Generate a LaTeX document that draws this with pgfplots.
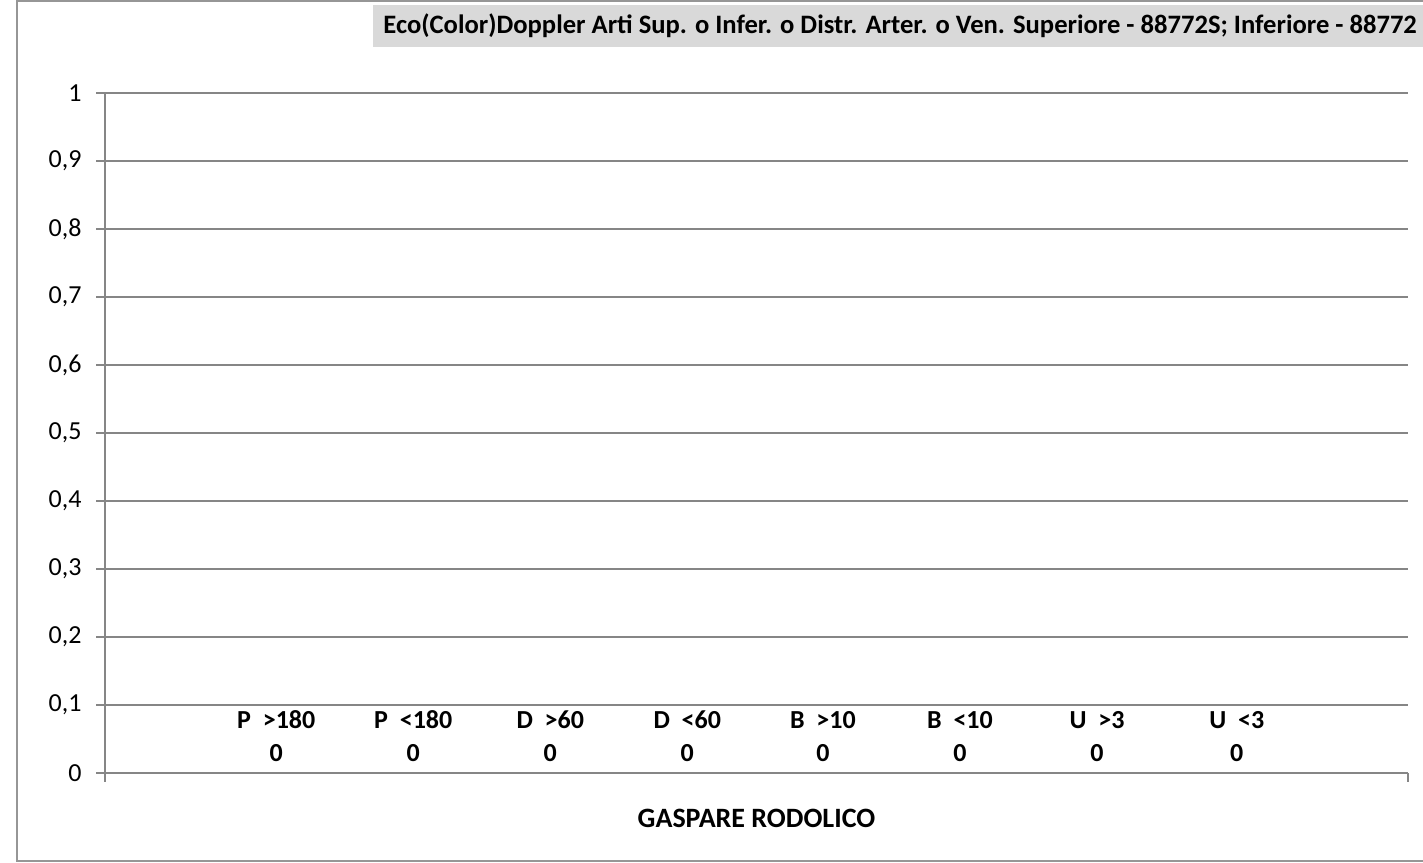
\documentclass[border=0pt]{standalone}
\usepackage{fontspec}
\setmainfont{Carlito}
\usepackage{pgfplots}
\pgfplotsset{compat=1.18}
\definecolor{gridc}{RGB}{134,134,134}
\definecolor{borderc}{RGB}{150,150,150}
\definecolor{titlebg}{RGB}{217,217,217}
\begin{document}
\begin{tikzpicture}
\useasboundingbox (0,0) rectangle (711.5pt,431pt);
\begin{scope}
\clip (0,0) rectangle (711.5pt,431pt);
\draw[borderc, line width=1pt] (720pt,0.6pt) -- (8.5pt,0.6pt) -- (8.5pt,430.4pt) -- (720pt,430.4pt);
\fill[titlebg] (186.5pt,407.5pt) rectangle (720pt,428.5pt);
\node[anchor=west, inner sep=0pt, font=\bfseries\fontsize{13.3}{15}\selectfont] at (191.5pt,418pt) {Eco(Color)Doppler Arti Sup. o Infer. o Distr. Arter. o Ven. Superiore - 88772S; Inferiore - 88772};
\begin{axis}[
  at={(52.5pt,44.5pt)}, anchor=south west,
  scale only axis, width=651.5pt, height=340pt,
  xmin=0, xmax=9.51, ymin=0, ymax=1,
  ytick={0,0.1,0.2,0.3,0.4,0.5,0.6,0.7,0.8,0.9,1},
  xtick={0,9.51}, xticklabels={},
  axis x line*=bottom, axis y line*=left,
  axis line style={gridc, line width=1pt, -},
  ymajorgrids, grid style={gridc, line width=1pt},
  tick style={gridc, line width=1pt},
  tick align=outside, major tick length=4.25pt,
  yticklabel style={font=\fontsize{13}{15}\selectfont, xshift=-4pt,
    /pgf/number format/.cd, use comma, fixed, precision=1, assume math mode=true},
  xlabel={GASPARE RODOLICO},
  xlabel style={at={(axis description cs:0.5,0)}, anchor=center, yshift=-22.5pt, font=\bfseries\fontsize{14}{16}\selectfont},
  clip=false,
]
\addplot[only marks, mark=none, nodes near coords, point meta=explicit symbolic,
  every node near coord/.append style={anchor=south, align=center, yshift=2pt,
    font=\bfseries\fontsize{13}{16.5}\selectfont}]
  coordinates {
    (1.25,0) [{P\ \ >180\\0}]
    (2.25,0) [{P\ \ <180\\0}]
    (3.25,0) [{D\ \ >60\\0}]
    (4.25,0) [{D\ \ <60\\0}]
    (5.24,0) [{B\ \ >10\\0}]
    (6.24,0) [{B\ \ <10\\0}]
    (7.24,0) [{U\ \ >3\\0}]
    (8.26,0) [{U\ \ <3\\0}]
  };
\end{axis}
\end{scope}
\end{tikzpicture}
\end{document}
